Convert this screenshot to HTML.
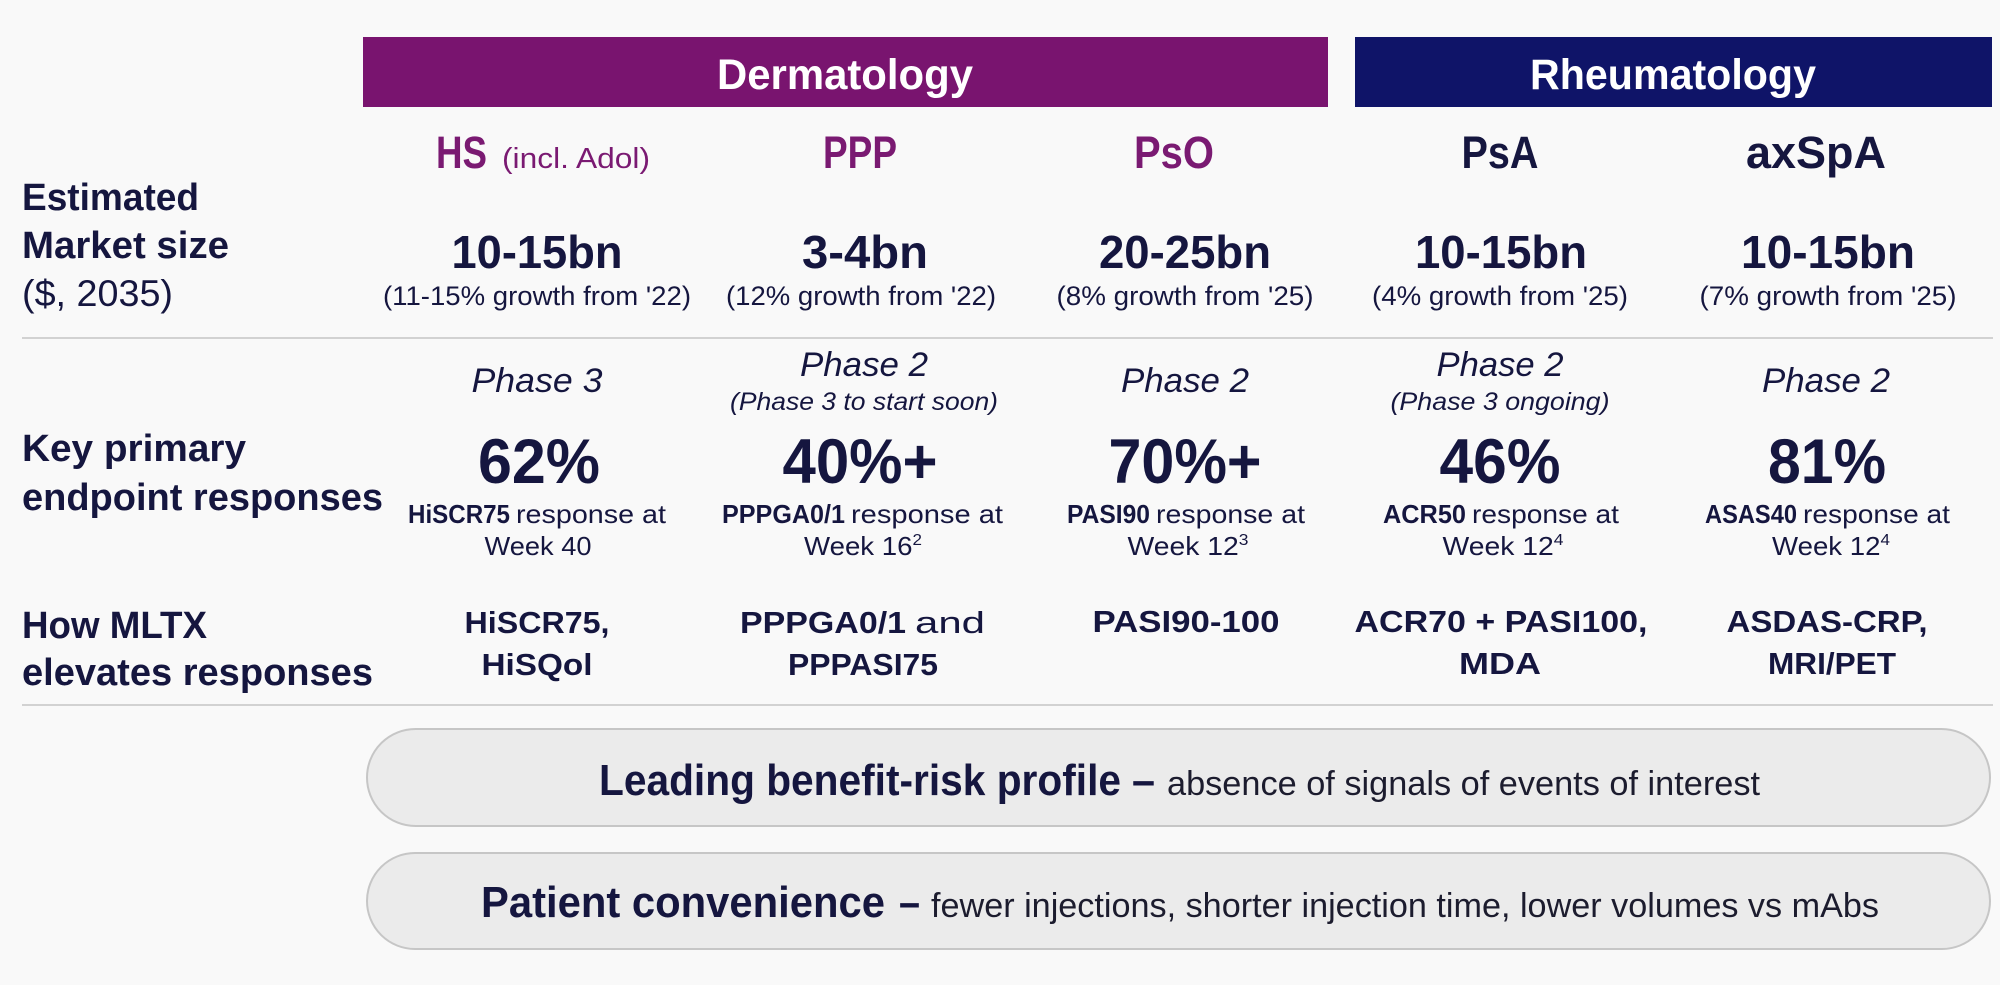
<!DOCTYPE html>
<html>
<head>
<meta charset="utf-8">
<style>
  html,body{margin:0;padding:0;background:#f9f9f9;}
  svg{display:block;}
  text{font-family:"Liberation Sans", Arial, sans-serif;}
  .nv{fill:#15163f;}
  .pu{fill:#7a1a72;}
  .b{font-weight:bold;}
</style>
</head>
<body>
<svg width="2000" height="985" viewBox="0 0 2000 985" xmlns="http://www.w3.org/2000/svg">
  <rect x="0" y="0" width="2000" height="985" fill="#f9f9f9"/>

  <!-- Header bars -->
  <rect x="363" y="37" width="965" height="70" fill="#79146f"/>
  <rect x="1355" y="37" width="637" height="70" fill="#0f1468"/>
  <text x="845" y="89" text-anchor="middle" class="b" font-size="43" fill="#ffffff" textLength="256" lengthAdjust="spacingAndGlyphs">Dermatology</text>
  <text x="1673" y="89" text-anchor="middle" class="b" font-size="43" fill="#ffffff" textLength="286" lengthAdjust="spacingAndGlyphs">Rheumatology</text>

  <!-- Indication headers -->
  <text x="436" y="168" class="b pu" font-size="45" textLength="51" lengthAdjust="spacingAndGlyphs">HS</text>
  <text x="502" y="168" class="pu" font-size="29" textLength="148" lengthAdjust="spacingAndGlyphs">(incl. Adol)</text>
  <text x="860" y="168" text-anchor="middle" class="b pu" font-size="45" textLength="74" lengthAdjust="spacingAndGlyphs">PPP</text>
  <text x="1174" y="168" text-anchor="middle" class="b pu" font-size="45" textLength="80" lengthAdjust="spacingAndGlyphs">PsO</text>
  <text x="1500" y="168" text-anchor="middle" class="b nv" font-size="45" textLength="77" lengthAdjust="spacingAndGlyphs">PsA</text>
  <text x="1816" y="168" text-anchor="middle" class="b nv" font-size="45" textLength="140" lengthAdjust="spacingAndGlyphs">axSpA</text>

  <!-- Left labels row 1 -->
  <text x="22" y="210" class="b nv" font-size="38" textLength="177" lengthAdjust="spacingAndGlyphs">Estimated</text>
  <text x="22" y="258" class="b nv" font-size="38" textLength="207" lengthAdjust="spacingAndGlyphs">Market size</text>
  <text x="22" y="306" class="nv" font-size="37" textLength="151" lengthAdjust="spacingAndGlyphs">($, 2035)</text>

  <!-- Market size values -->
  <text x="537" y="268" text-anchor="middle" class="b nv" font-size="46" textLength="171" lengthAdjust="spacingAndGlyphs">10-15bn</text>
  <text x="865" y="268" text-anchor="middle" class="b nv" font-size="46" textLength="126" lengthAdjust="spacingAndGlyphs">3-4bn</text>
  <text x="1185" y="268" text-anchor="middle" class="b nv" font-size="46" textLength="172" lengthAdjust="spacingAndGlyphs">20-25bn</text>
  <text x="1501" y="268" text-anchor="middle" class="b nv" font-size="46" textLength="172" lengthAdjust="spacingAndGlyphs">10-15bn</text>
  <text x="1828" y="268" text-anchor="middle" class="b nv" font-size="46" textLength="174" lengthAdjust="spacingAndGlyphs">10-15bn</text>

  <text x="537" y="305" text-anchor="middle" class="nv" font-size="27" textLength="308" lengthAdjust="spacingAndGlyphs">(11-15% growth from '22)</text>
  <text x="861" y="305" text-anchor="middle" class="nv" font-size="27" textLength="270" lengthAdjust="spacingAndGlyphs">(12% growth from '22)</text>
  <text x="1185" y="305" text-anchor="middle" class="nv" font-size="27" textLength="257" lengthAdjust="spacingAndGlyphs">(8% growth from '25)</text>
  <text x="1500" y="305" text-anchor="middle" class="nv" font-size="27" textLength="256" lengthAdjust="spacingAndGlyphs">(4% growth from '25)</text>
  <text x="1828" y="305" text-anchor="middle" class="nv" font-size="27" textLength="257" lengthAdjust="spacingAndGlyphs">(7% growth from '25)</text>

  <!-- separator 1 -->
  <line x1="22" y1="338" x2="1993" y2="338" stroke="#d2d2d2" stroke-width="2"/>

  <!-- Phase row -->
  <text x="537" y="392" text-anchor="middle" class="nv" font-style="italic" font-size="34" textLength="131" lengthAdjust="spacingAndGlyphs">Phase 3</text>
  <text x="864" y="376" text-anchor="middle" class="nv" font-style="italic" font-size="34" textLength="128" lengthAdjust="spacingAndGlyphs">Phase 2</text>
  <text x="864" y="410" text-anchor="middle" class="nv" font-style="italic" font-size="25" textLength="268" lengthAdjust="spacingAndGlyphs">(Phase 3 to start soon)</text>
  <text x="1185" y="392" text-anchor="middle" class="nv" font-style="italic" font-size="34" textLength="128" lengthAdjust="spacingAndGlyphs">Phase 2</text>
  <text x="1500" y="376" text-anchor="middle" class="nv" font-style="italic" font-size="34" textLength="127" lengthAdjust="spacingAndGlyphs">Phase 2</text>
  <text x="1500" y="410" text-anchor="middle" class="nv" font-style="italic" font-size="25" textLength="219" lengthAdjust="spacingAndGlyphs">(Phase 3 ongoing)</text>
  <text x="1826" y="392" text-anchor="middle" class="nv" font-style="italic" font-size="34" textLength="128" lengthAdjust="spacingAndGlyphs">Phase 2</text>

  <!-- Left labels row 2 -->
  <text x="22" y="461" class="b nv" font-size="38" textLength="224" lengthAdjust="spacingAndGlyphs">Key primary</text>
  <text x="22" y="510" class="b nv" font-size="38" textLength="361" lengthAdjust="spacingAndGlyphs">endpoint responses</text>

  <!-- Percent row -->
  <text x="539" y="483" text-anchor="middle" class="b nv" font-size="63" textLength="122" lengthAdjust="spacingAndGlyphs">62%</text>
  <text x="860" y="483" text-anchor="middle" class="b nv" font-size="63" textLength="155" lengthAdjust="spacingAndGlyphs">40%+</text>
  <text x="1185" y="483" text-anchor="middle" class="b nv" font-size="63" textLength="153" lengthAdjust="spacingAndGlyphs">70%+</text>
  <text x="1500" y="483" text-anchor="middle" class="b nv" font-size="63" textLength="121" lengthAdjust="spacingAndGlyphs">46%</text>
  <text x="1827" y="483" text-anchor="middle" class="b nv" font-size="63" textLength="118" lengthAdjust="spacingAndGlyphs">81%</text>

  <!-- Response row -->
  <text x="408" y="523" class="b nv" font-size="26" textLength="102" lengthAdjust="spacingAndGlyphs">HiSCR75</text>
  <text x="516" y="523" class="nv" font-size="26" textLength="150" lengthAdjust="spacingAndGlyphs">response at</text>
  <text x="722" y="523" class="b nv" font-size="26" textLength="123" lengthAdjust="spacingAndGlyphs">PPPGA0/1</text>
  <text x="851" y="523" class="nv" font-size="26" textLength="152" lengthAdjust="spacingAndGlyphs">response at</text>
  <text x="1067" y="523" class="b nv" font-size="26" textLength="83" lengthAdjust="spacingAndGlyphs">PASI90</text>
  <text x="1156" y="523" class="nv" font-size="26" textLength="149" lengthAdjust="spacingAndGlyphs">response at</text>
  <text x="1383" y="523" class="b nv" font-size="26" textLength="83" lengthAdjust="spacingAndGlyphs">ACR50</text>
  <text x="1472" y="523" class="nv" font-size="26" textLength="147" lengthAdjust="spacingAndGlyphs">response at</text>
  <text x="1705" y="523" class="b nv" font-size="26" textLength="92" lengthAdjust="spacingAndGlyphs">ASAS40</text>
  <text x="1803" y="523" class="nv" font-size="26" textLength="147" lengthAdjust="spacingAndGlyphs">response at</text>

  <!-- Week row -->
  <text x="538" y="555" text-anchor="middle" class="nv" font-size="26" textLength="107" lengthAdjust="spacingAndGlyphs">Week 40</text>
  <text x="863" y="555" text-anchor="middle" class="nv" font-size="26" textLength="118" lengthAdjust="spacingAndGlyphs">Week 16<tspan font-size="16" dy="-10">2</tspan></text>
  <text x="1188" y="555" text-anchor="middle" class="nv" font-size="26" textLength="121" lengthAdjust="spacingAndGlyphs">Week 12<tspan font-size="16" dy="-10">3</tspan></text>
  <text x="1503" y="555" text-anchor="middle" class="nv" font-size="26" textLength="121" lengthAdjust="spacingAndGlyphs">Week 12<tspan font-size="16" dy="-10">4</tspan></text>
  <text x="1831" y="555" text-anchor="middle" class="nv" font-size="26" textLength="118" lengthAdjust="spacingAndGlyphs">Week 12<tspan font-size="16" dy="-10">4</tspan></text>

  <!-- Left labels row 3 -->
  <text x="22" y="638" class="b nv" font-size="38" textLength="185" lengthAdjust="spacingAndGlyphs">How MLTX</text>
  <text x="22" y="685" class="b nv" font-size="38" textLength="351" lengthAdjust="spacingAndGlyphs">elevates responses</text>

  <!-- MLTX row -->
  <text x="537" y="633" text-anchor="middle" class="b nv" font-size="31" textLength="145" lengthAdjust="spacingAndGlyphs">HiSCR75,</text>
  <text x="537" y="675" text-anchor="middle" class="b nv" font-size="31" textLength="111" lengthAdjust="spacingAndGlyphs">HiSQol</text>
  <text x="740" y="633" class="b nv" font-size="31" textLength="166" lengthAdjust="spacingAndGlyphs">PPPGA0/1</text>
  <text x="915" y="633" class="nv" font-size="31" textLength="70" lengthAdjust="spacingAndGlyphs">and</text>
  <text x="863" y="675" text-anchor="middle" class="b nv" font-size="31" textLength="150" lengthAdjust="spacingAndGlyphs">PPPASI75</text>
  <text x="1186" y="632" text-anchor="middle" class="b nv" font-size="31" textLength="187" lengthAdjust="spacingAndGlyphs">PASI90-100</text>
  <text x="1501" y="632" text-anchor="middle" class="b nv" font-size="31" textLength="293" lengthAdjust="spacingAndGlyphs">ACR70 + PASI100,</text>
  <text x="1500" y="674" text-anchor="middle" class="b nv" font-size="31" textLength="82" lengthAdjust="spacingAndGlyphs">MDA</text>
  <text x="1827" y="632" text-anchor="middle" class="b nv" font-size="31" textLength="201" lengthAdjust="spacingAndGlyphs">ASDAS-CRP,</text>
  <text x="1832" y="674" text-anchor="middle" class="b nv" font-size="31" textLength="128" lengthAdjust="spacingAndGlyphs">MRI/PET</text>

  <!-- separator 2 -->
  <line x1="22" y1="705" x2="1993" y2="705" stroke="#d2d2d2" stroke-width="2"/>

  <!-- Pills -->
  <rect x="367" y="729" width="1623" height="97" rx="48.5" ry="48.5" fill="#ebebeb" stroke="#c6c6c6" stroke-width="2"/>
  <rect x="367" y="853" width="1623" height="96" rx="48" ry="48" fill="#ebebeb" stroke="#c6c6c6" stroke-width="2"/>

  <text x="599" y="795" class="b nv" font-size="44" textLength="522" lengthAdjust="spacingAndGlyphs">Leading benefit-risk profile</text>
  <text x="1132" y="795" class="b nv" font-size="44" textLength="23" lengthAdjust="spacingAndGlyphs">–</text>
  <text x="1167" y="795" fill="#1c1c2e" font-size="34" textLength="593" lengthAdjust="spacingAndGlyphs">absence of signals of events of interest</text>

  <text x="481" y="917" class="b nv" font-size="44" textLength="404" lengthAdjust="spacingAndGlyphs">Patient convenience</text>
  <text x="899" y="917" class="b nv" font-size="44" textLength="21" lengthAdjust="spacingAndGlyphs">–</text>
  <text x="931" y="917" fill="#1c1c2e" font-size="34" textLength="948" lengthAdjust="spacingAndGlyphs">fewer injections, shorter injection time, lower volumes vs mAbs</text>
</svg>
</body>
</html>
